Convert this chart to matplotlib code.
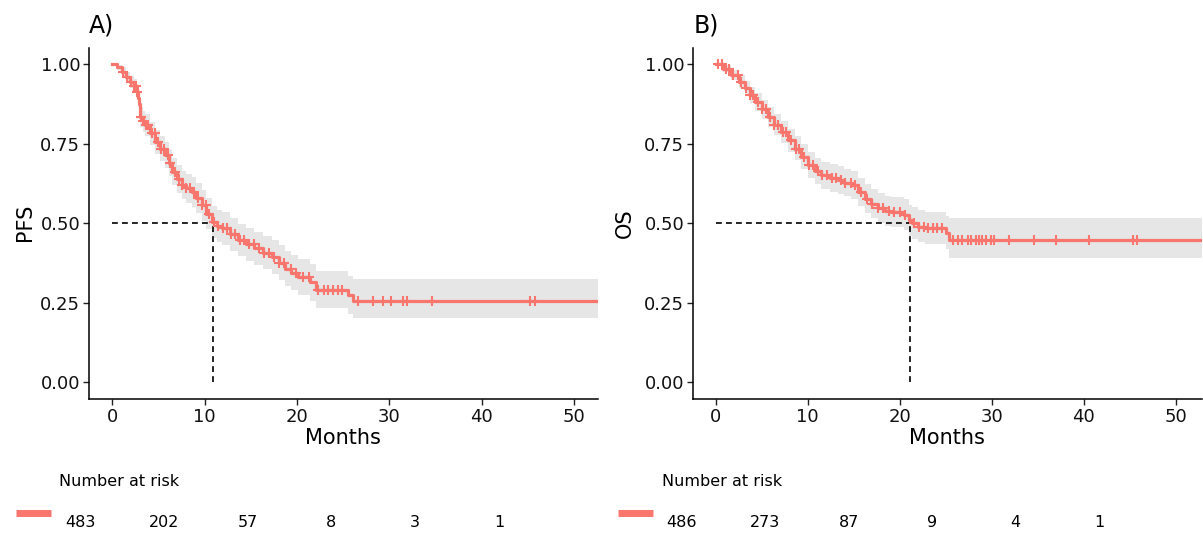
import numpy as np
import matplotlib
matplotlib.use("Agg")
import matplotlib.pyplot as plt

# ---- data ----
# A) PFS Kaplan-Meier estimate (step function) with 95% CI
pfs_time = [0.0, 0.5, 1.0, 1.5, 1.9, 2.3, 2.64, 2.75, 2.85, 2.95, 3.0, 3.3, 3.54, 4.1, 4.62,
            5.2, 5.7, 6.1, 6.43, 7.0, 7.5, 8.0, 8.6, 9.1, 9.67, 10.2, 10.76, 11.3, 11.84, 12.7,
            13.6, 14.5, 15.4, 16.3, 17.25, 18.0, 18.7, 19.4, 20.1, 21.4, 22.1, 25.5, 26.1, 52.6]
pfs_surv = [1.000, 0.990, 0.976, 0.960, 0.944, 0.930, 0.913, 0.895, 0.875, 0.855, 0.834, 0.820,
            0.808, 0.783, 0.756, 0.735, 0.714, 0.690, 0.662, 0.640, 0.620, 0.610, 0.599, 0.580,
            0.557, 0.530, 0.505, 0.492, 0.484, 0.465, 0.447, 0.434, 0.421, 0.408, 0.395, 0.376,
            0.358, 0.345, 0.332, 0.315, 0.292, 0.275, 0.256, 0.256]
pfs_lower = [1.000, 0.981, 0.962, 0.943, 0.924, 0.908, 0.888, 0.869, 0.848, 0.826, 0.802, 0.787,
             0.774, 0.747, 0.718, 0.695, 0.673, 0.648, 0.619, 0.596, 0.575, 0.564, 0.552, 0.532,
             0.508, 0.481, 0.455, 0.442, 0.433, 0.414, 0.396, 0.382, 0.368, 0.355, 0.341, 0.321,
             0.302, 0.289, 0.275, 0.257, 0.233, 0.214, 0.203, 0.203]
pfs_upper = [1.000, 0.999, 0.990, 0.977, 0.964, 0.952, 0.938, 0.921, 0.902, 0.884, 0.866, 0.853,
             0.842, 0.819, 0.794, 0.775, 0.755, 0.732, 0.705, 0.684, 0.665, 0.656, 0.646, 0.628,
             0.606, 0.579, 0.555, 0.542, 0.535, 0.516, 0.499, 0.486, 0.474, 0.461, 0.449, 0.431,
             0.414, 0.401, 0.389, 0.373, 0.351, 0.336, 0.325, 0.325]
pfs_censor = [1.2, 1.6, 2.0, 2.3, 2.6, 2.7, 3.1, 3.3, 3.6, 3.9, 4.3, 4.6, 4.9, 5.3, 5.6, 6.0,
              6.3, 6.8, 7.2, 7.6, 8.0, 8.4, 8.9, 9.3, 9.7, 10.1, 10.5, 11.0, 11.5, 12.0, 12.4,
              12.9, 13.3, 13.8, 14.3, 14.8, 15.3, 15.9, 16.4, 17.0, 17.5, 18.1, 18.6, 19.3,
              19.9, 20.6, 21.3, 22.3, 22.9, 23.4, 23.9, 24.4, 24.9, 26.6, 28.2, 29.3, 30.2,
              31.5, 31.9, 34.6, 45.2, 45.8]
pfs_median = 10.9
pfs_risk = [483, 202, 57, 8, 3, 1]

# B) OS
os_time = [0.0, 0.8, 1.73, 2.5, 3.18, 3.7, 4.26, 5.0, 5.7, 6.4, 7.16, 7.9, 8.6, 9.3, 10.04,
           10.8, 11.5, 12.4, 13.3, 14.0, 14.75, 15.5, 16.2, 16.9, 17.6, 18.4, 19.1, 20.5, 21.0,
           21.3, 22.0, 22.7, 25.0, 25.4, 52.85]
os_surv = [1.000, 0.985, 0.965, 0.945, 0.924, 0.903, 0.882, 0.858, 0.834, 0.810, 0.787, 0.761,
           0.735, 0.709, 0.683, 0.665, 0.651, 0.643, 0.636, 0.628, 0.620, 0.598, 0.578, 0.562,
           0.547, 0.540, 0.536, 0.526, 0.510, 0.500, 0.490, 0.484, 0.470, 0.449, 0.449]
os_lower = [1.000, 0.974, 0.949, 0.925, 0.901, 0.877, 0.854, 0.828, 0.802, 0.776, 0.752, 0.725,
            0.698, 0.671, 0.643, 0.624, 0.609, 0.600, 0.593, 0.585, 0.576, 0.553, 0.533, 0.516,
            0.500, 0.493, 0.488, 0.478, 0.461, 0.451, 0.440, 0.434, 0.418, 0.390, 0.390]
os_upper = [1.000, 0.996, 0.981, 0.965, 0.947, 0.929, 0.910, 0.888, 0.866, 0.844, 0.822, 0.797,
            0.773, 0.748, 0.723, 0.706, 0.693, 0.686, 0.679, 0.672, 0.664, 0.643, 0.624, 0.608,
            0.594, 0.587, 0.584, 0.575, 0.559, 0.550, 0.541, 0.535, 0.522, 0.517, 0.517]
os_censor = [0.3, 0.7, 1.1, 1.5, 1.9, 2.4, 2.8, 3.3, 3.7, 4.1, 4.6, 5.0, 5.5, 5.9, 6.4, 6.8,
             7.3, 7.7, 8.2, 8.7, 9.1, 9.6, 10.1, 10.6, 11.1, 11.6, 12.1, 12.6, 13.1, 13.6, 14.1,
             14.7, 15.2, 15.8, 16.4, 17.0, 17.6, 18.2, 18.8, 19.4, 20.0, 20.6, 21.6, 22.1, 22.6,
             23.1, 23.6, 24.1, 24.6, 25.8, 26.3, 26.8, 27.4, 27.7, 28.3, 28.6, 29.0, 29.4, 29.9,
             30.3, 31.9, 34.6, 37.0, 40.6, 45.3, 45.8]
os_median = 21.15
os_risk = [486, 273, 87, 9, 4, 1]

risk_times = [0, 10, 20, 30, 40, 50]

RED = "#F8766D"
W, H = 1203, 535
plt.rcParams["font.family"] = "DejaVu Sans"

fig = plt.figure(figsize=(W / 100, H / 100), dpi=100)


def box(l, t, r, b):
    # pixel box -> figure fraction
    return [l / W, 1 - b / H, (r - l) / W, (b - t) / H]


panels = [
    dict(tag="A)", ylab="PFS", t=pfs_time, s=pfs_surv, lo=pfs_lower, hi=pfs_upper,
         cens=pfs_censor, med=pfs_median, risk=pfs_risk,
         ax=(89.3, 48.3, 598, 399.3), xlim=(-2.49, 52.6), ylab_x=25, months_x=343,
         rbox=(0, 460, 598, 535), r0=80, r50=499, bar=(16, 51), nar_x=59),
    dict(tag="B)", ylab="OS", t=os_time, s=os_surv, lo=os_lower, hi=os_upper,
         cens=os_censor, med=os_median, risk=os_risk,
         ax=(693.3, 48.3, 1202, 399.3), xlim=(-2.42, 52.85), ylab_x=625, months_x=947,
         rbox=(600, 460, 1203, 535), r0=681.7, r50=1099, bar=(618, 653), nar_x=662),
]

for p in panels:
    ax = fig.add_axes(box(*p["ax"]))
    t = np.array(p["t"])
    s = np.array(p["s"])
    ax.fill_between(t, p["lo"], p["hi"], step="post", color="#E6E6E6", lw=0, zorder=1)
    ax.plot([0, p["med"]], [0.5, 0.5], color="black", lw=1.2, dashes=(3.5, 2.5), zorder=2)
    ax.plot([p["med"], p["med"]], [0, 0.5], color="black", lw=1.2, dashes=(3.5, 2.5), zorder=2)
    ax.step(t, s, where="post", color=RED, lw=2.3, zorder=3)
    c = np.array(p["cens"])
    cy = s[np.searchsorted(t, c, side="right") - 1]
    ax.plot(c, cy, ls="none", marker="+", ms=6.5, mew=1.5, color=RED, zorder=4)

    ax.set_xlim(*p["xlim"])
    ax.set_ylim(-0.053, 1.05)
    ax.set_xticks(risk_times)
    ax.set_yticks([0, 0.25, 0.5, 0.75, 1.0])
    ax.set_yticklabels(["0.00", "0.25", "0.50", "0.75", "1.00"])
    for side in ["top", "right"]:
        ax.spines[side].set_visible(False)
    for side in ["left", "bottom"]:
        ax.spines[side].set_linewidth(1.1)
    ax.tick_params(labelsize=13, length=4, width=1.0, pad=2.5, colors="#222222",
                   labelcolor="#111111")

    fig.text((p["ax"][0]) / W, 1 - 32 / H, p["tag"], fontsize=17, ha="left", va="baseline")
    fig.text(p["ylab_x"] / W, 1 - 222.7 / H, p["ylab"], fontsize=15, rotation=90,
             ha="center", va="center")
    fig.text(p["months_x"] / W, 1 - 438 / H, "Months", fontsize=15, ha="center", va="center")

    # number-at-risk table
    rax = fig.add_axes(box(*p["rbox"]))
    rax.axis("off")
    scale = (p["r50"] - p["r0"]) / 50
    l, _, r, _ = p["rbox"]
    rax.set_xlim((l - p["r0"]) / scale, (r - p["r0"]) / scale)
    rax.set_ylim(535, 460)
    rax.text((p["nar_x"] - p["r0"]) / scale, 481.7, "Number at risk", fontsize=11.5,
             ha="left", va="center")
    b0, b1 = p["bar"]
    rax.plot([(b0 - p["r0"]) / scale, (b1 - p["r0"]) / scale], [513.3, 513.3],
             color=RED, lw=5, solid_capstyle="butt")
    for tt, n in zip(risk_times, p["risk"]):
        rax.text(tt, 522.7, str(n), fontsize=11.5, ha="center", va="center")

fig.savefig("out.png", dpi=100)
